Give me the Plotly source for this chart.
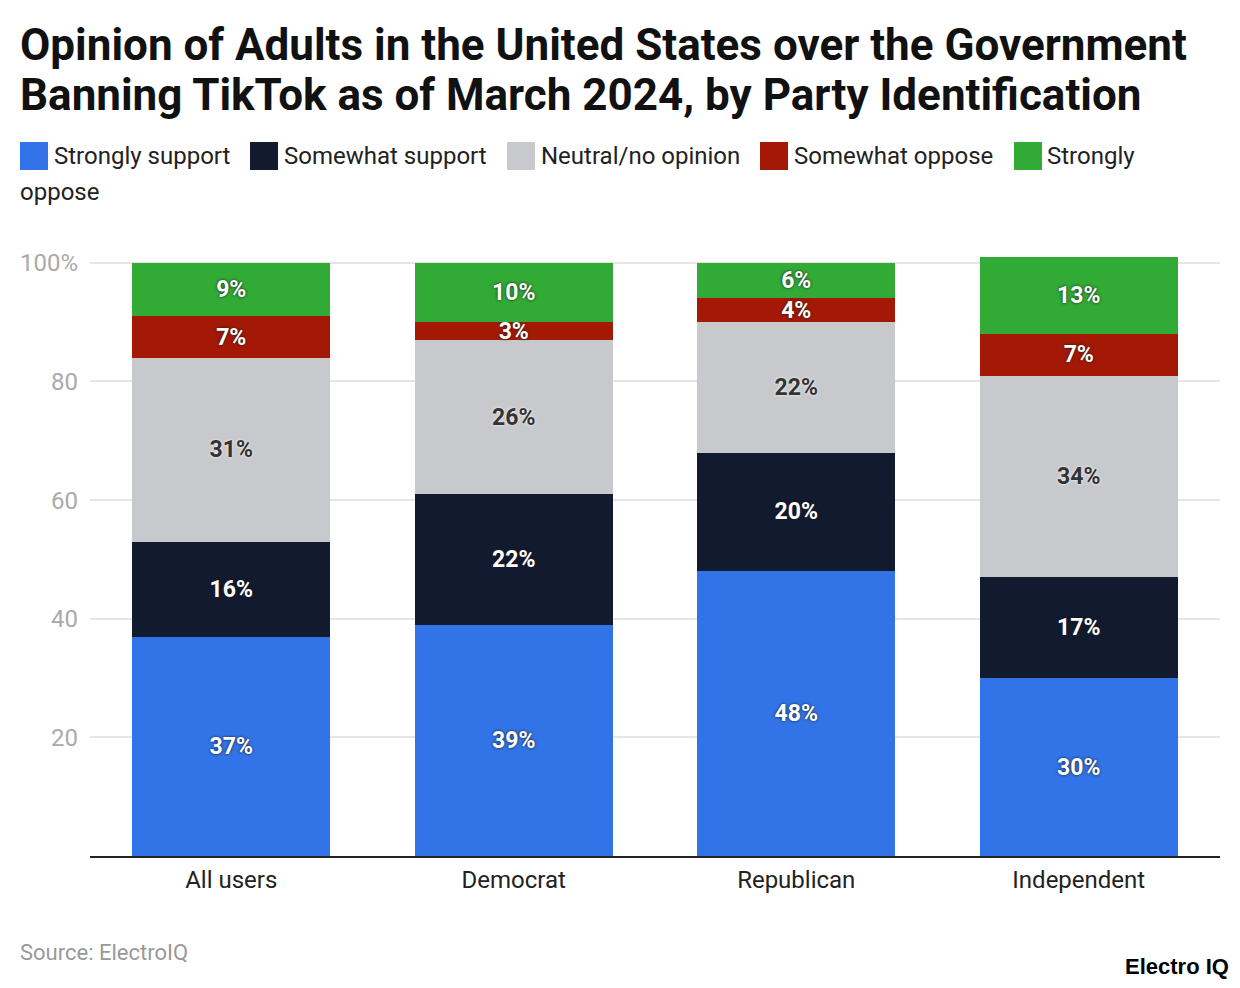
import plotly.graph_objects as go

categories = ["All users", "Democrat", "Republican", "Independent"]
strongly_support = [37, 39, 48, 30]
somewhat_support = [16, 22, 20, 17]
neutral = [31, 26, 22, 34]
somewhat_oppose = [7, 3, 4, 7]
strongly_oppose = [9, 10, 6, 13]

series_names = ["Strongly support", "Somewhat support", "Neutral/no opinion",
                "Somewhat oppose", "Strongly oppose"]
series_values = [strongly_support, somewhat_support, neutral, somewhat_oppose, strongly_oppose]
colors = ["#3274e8", "#121a2f", "#c8c9cd", "#a31906", "#31aa36"]
label_colors = ["#ffffff", "#ffffff", "#333333", "#ffffff", "#ffffff"]
label_shadows = ["0px 0px 3px #1a1a1a", "0px 0px 3px #1a1a1a", "0px 0px 3px #ffffff",
                 "0px 0px 3px #1a1a1a", "0px 0px 3px #1a1a1a"]

OFF = 8  # page body margin
W, H = 1240 - OFF, 988 - OFF
L, R, T, B = 90 - OFF, 20, 251 - OFF, 132
PW, PH = W - L - R, H - T - B


def px(x):
    return (x - OFF - L) / PW


def py(y):
    return (H - B - (y - OFF)) / PH


fig = go.Figure()
for name, vals, col, lc, sh in zip(series_names, series_values, colors, label_colors, label_shadows):
    fig.add_trace(go.Bar(
        x=categories, y=vals, name=name, marker=dict(color=col, line=dict(width=0)),
        text=[f"{v}%" for v in vals], textposition="inside", insidetextanchor="middle",
        textangle=0, constraintext="none",
        textfont=dict(family="Roboto", size=23, color=lc, weight="bold", shadow=sh),
        showlegend=False,
    ))

fig.update_layout(
    barmode="stack", bargap=0.3,
    width=W, height=H,
    margin=dict(l=L, r=R, t=T, b=B, autoexpand=False),
    paper_bgcolor="white", plot_bgcolor="white",
    font=dict(family="Roboto", color="#222"),
    uniformtext=dict(minsize=23, mode="show"),
    xaxis=dict(showline=True, linecolor="#222222", linewidth=1.5, ticks="",
               tickfont=dict(size=24, color="#222222"), ticklabelstandoff=1),
    yaxis=dict(range=[0, 102], tickvals=[20, 40, 60, 80, 100],
               ticktext=["20", "40", "60", "80", "100%"],
               showgrid=True, gridcolor="#e6e6e6", gridwidth=1.5, zeroline=False,
               tickfont=dict(size=24, color="#aaaaaa"), ticklabelstandoff=11),
)

# title (two lines)
title_lines = ["Opinion of Adults in the United States over the Government",
               "Banning TikTok as of March 2024, by Party Identification"]
for txt, yy in zip(title_lines, [45, 95]):
    fig.add_annotation(xref="paper", yref="paper", x=px(18), y=py(yy),
                       xanchor="left", yanchor="middle", text=txt, showarrow=False,
                       font=dict(family="Roboto", size=44, color="#111111", weight="bold"))

# custom wrapped legend
legend_items = [
    (20, 52, "Strongly support"),
    (250, 282, "Somewhat support"),
    (507, 539, "Neutral/no opinion"),
    (760, 792, "Somewhat oppose"),
    (1014, 1045, "Strongly"),
]
for (sx, tx, txt), col in zip(legend_items, colors):
    fig.add_shape(type="rect", xref="paper", yref="paper",
                  x0=px(sx), x1=px(sx + 28), y0=py(170), y1=py(142),
                  fillcolor=col, line=dict(width=0))
    fig.add_annotation(xref="paper", yref="paper", x=px(tx), y=py(156),
                       xanchor="left", yanchor="middle", text=txt, showarrow=False,
                       font=dict(family="Roboto", size=24, color="#222222"))
fig.add_annotation(xref="paper", yref="paper", x=px(18), y=py(192),
                   xanchor="left", yanchor="middle", text="oppose", showarrow=False,
                   font=dict(family="Roboto", size=24, color="#222222"))

fig.add_annotation(xref="paper", yref="paper", x=px(18), y=py(952),
                   xanchor="left", yanchor="middle", text="Source: ElectroIQ", showarrow=False,
                   font=dict(family="Roboto", size=22, color="#999999"))
fig.add_annotation(xref="paper", yref="paper", x=px(1231), y=py(966),
                   xanchor="right", yanchor="middle", text="<b>Electro IQ</b>", showarrow=False,
                   font=dict(family="Liberation Sans", size=22, color="#000000"))

fig.write_html("out.html")
